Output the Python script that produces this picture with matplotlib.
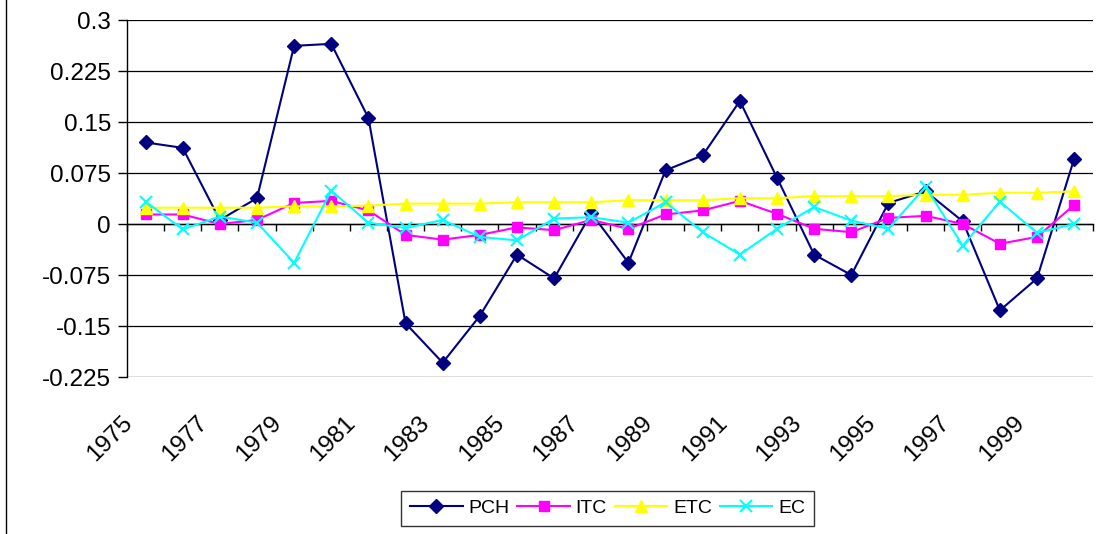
import matplotlib
matplotlib.use("Agg")
import matplotlib.pyplot as plt
import numpy as np
from matplotlib.lines import Line2D
from matplotlib.ticker import FuncFormatter
from matplotlib.transforms import ScaledTranslation

plt.rcParams["font.family"] = ["Liberation Sans", "DejaVu Sans"]

years = list(range(1975, 2001))
pch = [0.120, 0.112, 0.006, 0.038, 0.262, 0.265, 0.156, -0.146, -0.204, -0.135,
       -0.045, -0.080, 0.016, -0.057, 0.079, 0.101, 0.181, 0.068, -0.045, -0.075,
       0.031, 0.048, 0.004, -0.127, -0.080, 0.096]
itc = [0.014, 0.014, 0.000, 0.006, 0.031, 0.034, 0.020, -0.016, -0.023, -0.016,
       -0.005, -0.009, 0.006, -0.007, 0.014, 0.020, 0.034, 0.015, -0.007, -0.012,
       0.009, 0.012, 0.000, -0.029, -0.019, 0.028]
etc = [0.024, 0.024, 0.024, 0.024, 0.026, 0.026, 0.027, 0.030, 0.030, 0.030,
       0.032, 0.032, 0.032, 0.035, 0.035, 0.035, 0.038, 0.038, 0.041, 0.041,
       0.041, 0.043, 0.043, 0.046, 0.046, 0.048]
ec = [0.033, -0.008, 0.011, 0.002, -0.057, 0.049, 0.002, -0.006, 0.006, -0.019,
      -0.024, 0.008, 0.010, 0.002, 0.032, -0.012, -0.045, -0.007, 0.025, 0.005,
      -0.007, 0.055, -0.032, 0.033, -0.013, 0.000]
yticks = [-0.225, -0.15, -0.075, 0, 0.075, 0.15, 0.225, 0.3]

fig = plt.figure(figsize=(11.02, 5.34), dpi=100)
ax = fig.add_axes([0.1152, 0.294, 0.8764, 0.6685])

x = np.arange(len(years))
ax.plot(x, pch, color="#000080", lw=1.5, marker="D", ms=7, label="PCH")
ax.plot(x, itc, color="#FF00FF", lw=1.5, marker="s", ms=7, label="ITC")
ax.plot(x, etc, color="#FFFF00", lw=1.5, marker="^", ms=8.5, label="ETC")
ax.plot(x, ec, color="#00FFFF", lw=1.5, marker="x", ms=9, mew=1.5, label="EC")

ax.set_xlim(-0.5, len(years) - 0.5)
ax.set_ylim(-0.225, 0.3)
ax.set_yticks(yticks)
ax.yaxis.set_major_formatter(FuncFormatter(lambda v, p: f"{round(v, 3):g}"))
ax.tick_params(axis="y", labelsize=17.5, length=6.5, width=1, pad=5)
ax.yaxis.grid(True, color="black", lw=0.9)
ax.set_axisbelow(True)
for s in ("top", "right", "bottom"):
    ax.spines[s].set_visible(False)
ax.spines["left"].set_linewidth(1)

# category labels at the bottom, every other year
ax.set_xticks(x[::2])
ax.set_xticklabels([str(y) for y in years[::2]], rotation=45, ha="right",
                   va="top", rotation_mode="anchor", fontsize=17.5)
ax.tick_params(axis="x", length=0, pad=12)
shift = ScaledTranslation(-0.24, -0.18, fig.dpi_scale_trans)
for lab in ax.get_xticklabels():
    lab.set_transform(lab.get_transform() + shift)

# zero axis with tick marks between categories
zero = ax.secondary_xaxis(0.225 / 0.525)
zero.set_xticks(np.arange(-0.5, len(years), 1.0))
zero.set_xticklabels([])
zero.tick_params(axis="x", length=5, width=1, direction="out")
zero.spines["bottom"].set_linewidth(1)

leg = fig.legend(loc="center", bbox_to_anchor=(0.5513, 0.048), ncol=4,
                 fontsize=14, frameon=True, fancybox=False, edgecolor="black",
                 handlelength=2.7, columnspacing=0.4, handletextpad=0.3,
                 borderpad=0.45, borderaxespad=0)
leg.get_frame().set_linewidth(1)

fig.add_artist(Line2D([0.0055, 0.0055], [0, 1], color="black", lw=1))

fig.savefig("out.png", dpi=100)
